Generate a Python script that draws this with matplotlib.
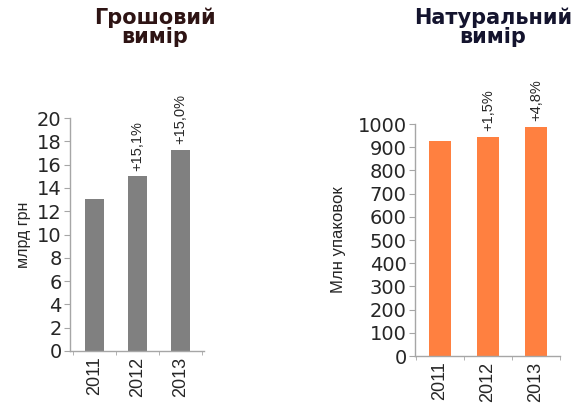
import matplotlib
matplotlib.use("Agg")
import matplotlib.pyplot as plt

years = ["2011", "2012", "2013"]
money_values = [13.05, 15.0, 17.28]
money_growth = ["", "+15,1%", "+15,0%"]
units_values = [927, 945, 987]
units_growth = ["", "+1,5%", "+4,8%"]

left_title = "Грошовий\nвимір"
right_title = "Натуральний\nвимір"
left_ylabel = "млрд грн"
right_ylabel = "Млн упаковок"

fig = plt.figure(figsize=(5.74, 4.03), dpi=100)

spine_col = "#a6a6a6"
text_col = "#262626"


def setup(ax, values, growth, color, ylim, yticks, ylabel, xlim, tick_font,
          labelpad, ylabel_font):
    x = list(range(len(values)))
    ax.bar(x, values, width=0.44, color=color, zorder=2)
    ax.set_xlim(*xlim)
    ax.set_ylim(*ylim)
    ax.set_yticks(yticks)
    ax.set_yticklabels([str(t) for t in yticks], fontsize=tick_font,
                       family="DejaVu Sans", color=text_col)
    ax.set_xticks(x)
    ax.set_xticklabels(years, rotation=90, fontsize=13,
                       family="Liberation Sans", color=text_col)
    ax.tick_params(axis="x", which="major", length=0, pad=4)
    ax.set_xticks([i - 0.5 for i in range(len(values) + 1)], minor=True)
    ax.tick_params(axis="x", which="minor", length=3, direction="out",
                   color=spine_col)
    ax.tick_params(axis="y", length=4, direction="out", color=spine_col, pad=2)
    for s in ["top", "right"]:
        ax.spines[s].set_visible(False)
    for s in ["left", "bottom"]:
        ax.spines[s].set_color(spine_col)
        ax.spines[s].set_linewidth(1.0)
    ax.set_ylabel(ylabel, fontsize=ylabel_font, family="Liberation Sans",
                  color=text_col, labelpad=labelpad)
    for xi, v, g in zip(x, values, growth):
        if g:
            ax.annotate(g, (xi, v), xytext=(0, 4), textcoords="offset points",
                        rotation=90, ha="center", va="bottom", fontsize=10.5,
                        family="Liberation Sans", color=text_col)


ax1 = fig.add_axes([70 / 574, 1 - 351 / 403, 134 / 574, 233 / 403])
setup(ax1, money_values, money_growth, "#808080", (0, 20),
      list(range(0, 21, 2)), left_ylabel, (-0.57, 2.55), 14, 4, 11.5)

ax2 = fig.add_axes([415 / 574, 1 - 356 / 403, 145 / 574, 232 / 403])
setup(ax2, units_values, units_growth, "#ff8040", (0, 1000),
      list(range(0, 1001, 100)), right_ylabel, (-0.52, 2.5), 14, 8, 12)

fig.text(155 / 574, 1 - 27 / 403, left_title, ha="center", va="center",
         fontsize=15, fontweight="bold", family="DejaVu Sans",
         color="#2e1414", linespacing=0.95)
fig.text(493 / 574, 1 - 27 / 403, right_title, ha="center", va="center",
         fontsize=15, fontweight="bold", family="DejaVu Sans",
         color="#14142e", linespacing=0.95)

fig.savefig("out.png", dpi=100)
